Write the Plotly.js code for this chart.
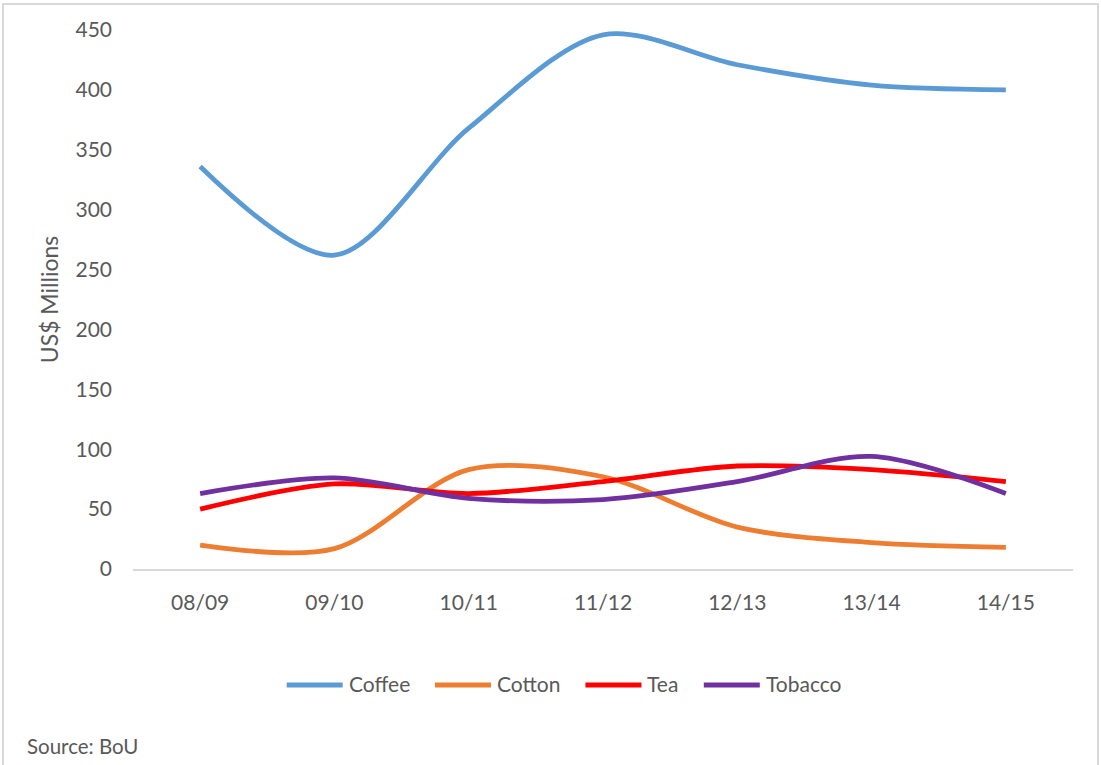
<!DOCTYPE html>
<html>
<head>
<meta charset="utf-8">
<script src="https://cdn.plot.ly/plotly-3.0.1.min.js"></script>
<style>
  html, body { margin: 0; padding: 0; background: #ffffff; }
  #wrap { position: relative; width: 1101px; height: 765px; overflow: hidden; }
  #chart { width: 1101px; height: 765px; }
  #frame { position: absolute; left: 2px; top: 3px; width: 1097px; height: 780px;
           border: 2px solid #d9d9d9; box-sizing: border-box; pointer-events: none; }
</style>
</head>
<body>
<div id="wrap">
  <div id="chart"></div>
  <div id="frame"></div>
</div>
<script>
// Export values by season, US$ millions
const seasons = ["08/09", "09/10", "10/11", "11/12", "12/13", "13/14", "14/15"];
const coffee  = [336, 262, 368, 446, 421, 404, 400];
const cotton  = [20, 17, 83, 77, 35, 22, 18];
const tea     = [50, 71, 63, 73, 86, 83, 73];
const tobacco = [63, 76, 59, 58, 73, 94, 63];

const seriesNames  = ["Coffee", "Cotton", "Tea", "Tobacco"];
const seriesValues = [coffee, cotton, tea, tobacco];
const seriesColors = ["#5B9BD5", "#ED7D31", "#FF0000", "#7030A0"];

const FONT = "Lato, 'Open Sans', sans-serif";
const TEXT_COLOR = "#595959";

const W = 1101, H = 765;
const M = { l: 133, r: 28, t: 30, b: 196 };
const plotW = W - M.l - M.r, plotH = H - M.t - M.b;
const toPaperX = px => (px - M.l) / plotW;
const toPaperY = py => (H - M.b - py) / plotH;

const traces = seriesNames.map((name, i) => ({
  type: "scatter",
  mode: "lines",
  name: name,
  x: seasons,
  y: seriesValues[i],
  line: { color: seriesColors[i], width: 4.8, shape: "spline", smoothing: 0.9 },
  hoverinfo: "x+y+name"
}));

// Bottom legend: long line keys followed by the series name
const LEG_FONT = 21, KEY_LEN = 56, KEY_GAP = 4, ENTRY_GAP = 27, LEG_Y = 685, LEG_CENTER = 563;
const ctx = document.createElement("canvas").getContext("2d");
ctx.font = LEG_FONT + "px Lato";
const textW = seriesNames.map(n => ctx.measureText(n).width);
const totalW = textW.reduce((s, w) => s + KEY_LEN + KEY_GAP + w, 0) + ENTRY_GAP * (seriesNames.length - 1);
let cursor = LEG_CENTER - totalW / 2;
const legendShapes = [], legendLabels = [];
seriesNames.forEach((name, i) => {
  legendShapes.push({
    type: "line", xref: "paper", yref: "paper",
    x0: toPaperX(cursor), x1: toPaperX(cursor + KEY_LEN),
    y0: toPaperY(LEG_Y), y1: toPaperY(LEG_Y),
    line: { color: seriesColors[i], width: 5 }
  });
  legendLabels.push({
    xref: "paper", yref: "paper",
    x: toPaperX(cursor + KEY_LEN + KEY_GAP), y: toPaperY(LEG_Y - 2),
    xanchor: "left", yanchor: "middle",
    text: name, showarrow: false,
    font: { size: LEG_FONT, color: TEXT_COLOR }
  });
  cursor += KEY_LEN + KEY_GAP + textW[i] + ENTRY_GAP;
});

const layout = {
  width: W,
  height: H,
  margin: M,
  paper_bgcolor: "#ffffff",
  plot_bgcolor: "#ffffff",
  font: { family: FONT, color: TEXT_COLOR, size: 21 },
  xaxis: {
    type: "category",
    range: [-0.5, seasons.length - 0.5],
    showgrid: false,
    showline: true,
    linecolor: "#d9d9d9",
    linewidth: 2,
    ticks: "",
    ticklabelstandoff: 14,
    tickfont: { size: 21, color: TEXT_COLOR },
    zeroline: false,
    fixedrange: true
  },
  yaxis: {
    range: [0, 450],
    dtick: 50,
    showgrid: false,
    zeroline: false,
    showline: false,
    ticks: "",
    ticklabelstandoff: 20,
    tickfont: { size: 21, color: TEXT_COLOR },
    title: { text: "US$ Millions", font: { size: 23, color: TEXT_COLOR }, standoff: 10 },
    fixedrange: true
  },
  showlegend: false,
  shapes: legendShapes,
  annotations: legendLabels.concat([{
    xref: "paper", yref: "paper",
    x: toPaperX(25), y: toPaperY(746),
    xanchor: "left", yanchor: "middle",
    text: "Source: BoU",
    showarrow: false,
    font: { size: 20.5, color: TEXT_COLOR }
  }])
};

Plotly.newPlot("chart", traces, layout, { displayModeBar: false, staticPlot: true });
</script>
</body>
</html>
